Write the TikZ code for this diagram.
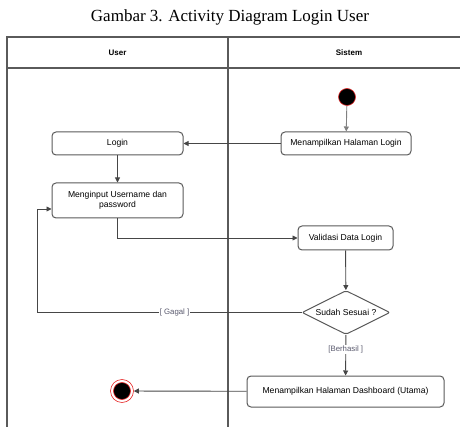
\documentclass[tikz,border=0pt]{standalone}
\usepackage{fontspec}
\setmainfont{Liberation Serif}
\setsansfont{Liberation Sans}
\definecolor{laneGray}{RGB}{90, 90, 90}
\definecolor{lineGray}{RGB}{70, 70, 70}
\definecolor{guardGray}{RGB}{90, 90, 110}
\definecolor{ringRed}{RGB}{230, 40, 40}
\usetikzlibrary{arrows.meta, positioning, shapes.geometric}

\begin{document}
\begin{tikzpicture}[
    x=1pt, y=-1pt,
    lane/.style={draw=laneGray, line width=1.3pt},
    lanehead/.style={font=\sffamily\bfseries\fontsize{8}{9}\selectfont},
    action/.style={
      rectangle, draw=laneGray, fill=white, rounded corners=4pt,
      line width=1pt, inner sep=2pt, align=center,
      font=\sffamily\fontsize{8.6}{10}\selectfont
    },
    decision/.style={action, diamond, aspect=2, inner sep=0pt, rounded corners=2pt},
    startnode/.style={circle, fill=black, draw=ringRed, line width=0.6pt,
      minimum size=17pt, inner sep=0pt},
    endnode/.style={circle, draw=ringRed, line width=0.6pt, minimum size=23pt,
      inner sep=0pt, path picture={
        \filldraw[fill=black, draw=ringRed, line width=0.6pt]
          (path picture bounding box.center) circle (8.5pt);}},
    guard/.style={fill=white, inner sep=1pt, text=guardGray,
      font=\sffamily\fontsize{7.8}{9}\selectfont},
    arrow/.style={-{Triangle[length=5pt, width=5pt]}, lineGray, line width=0.9pt},
  ]
    \useasboundingbox (0,0) rectangle (460,427);
    \clip (0,0) rectangle (460,427);

    % Caption
    \node[font=\fontsize{17}{19}\selectfont] (caption) at (230,17)
      {Gambar 3. Activity Diagram Login User};

    % Swimlanes
    \draw[lane] (7,427) -- (7,37) -- (470,37);
    \draw[lane] (7,68) -- (470,68);
    \draw[lane] (228,37) -- (228,427);
    \node[lanehead] (laneUser) at (117.5,53) {User};
    \node[lanehead] (laneSistem) at (349,53) {Sistem};

    % Sistem lane
    \node[startnode] (start) at (347,97) {};
    \node[action, minimum width=130pt, minimum height=23pt]
      (tampilLogin) at (346,143.5) {Menampilkan Halaman Login};
    \node[action, minimum width=95pt, minimum height=24pt]
      (validasi) at (345.5,238) {Validasi Data Login};
    \node[decision, minimum width=88pt, minimum height=44pt]
      (cek) at (346,312.5) {Sudah Sesuai ?};
    \node[action, minimum width=197pt, minimum height=31pt]
      (dashboard) at (345.5,391.5) {Menampilkan Halaman Dashboard (Utama)};

    % User lane
    \node[action, minimum width=131pt, minimum height=23pt]
      (login) at (117.5,143.5) {Login};
    \node[action, minimum width=131pt, minimum height=35pt]
      (input) at (117.5,200.5) {Menginput Username dan\\password};
    \node[endnode] (finish) at (122,391) {};

    % Flow
    \draw[arrow, gray] (start) -- (tampilLogin);
    \draw[arrow] (tampilLogin) -- (login);
    \draw[arrow] (login) -- (input);
    \draw[arrow] (input) |- (validasi);
    \draw[arrow] (validasi) -- (cek);
    \draw[arrow] (cek.west) -- node[guard, pos=0.48] {[ Gagal ]} (37,312.5)
      |- ([yshift=-8.5pt]input.west);
    \draw[arrow] (cek) -- node[guard, pos=0.36] {[Berhasil ]} (dashboard);
    \draw[arrow] (dashboard) -- (finish);
  \end{tikzpicture}
\end{document}
